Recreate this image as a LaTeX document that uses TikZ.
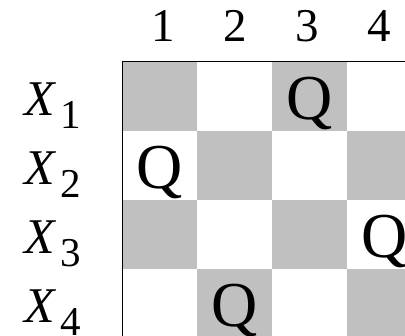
\documentclass[tikz,border=0pt]{standalone}
\usepackage{fontspec}
\setmainfont{Liberation Serif}
\definecolor{cellgray}{RGB}{192,192,192}
\newcommand{\queenfont}{\fontsize{64}{64}\selectfont}
\newcommand{\numfont}{\fontsize{47}{47}\selectfont}
\newcommand{\varfont}{\fontsize{50}{50}\selectfont}
\newcommand{\subfont}{\fontsize{41}{41}\selectfont}
\tikzset{
  queen/.style={anchor=base, inner sep=0pt, font=\queenfont},
  collabel/.style={anchor=base, inner sep=0pt, font=\numfont},
  rowlabel/.style={anchor=base west, inner sep=0pt, font=\varfont}
}
\begin{document}
\begin{tikzpicture}[x=1pt, y=-1pt]
  \useasboundingbox (0,0) rectangle (405,336);
  \clip (0,0) rectangle (405,336);

  % Checkerboard
  \foreach \r in {1,...,4} {
    \foreach \c in {1,...,4} {
      \pgfmathtruncatemacro{\sumrc}{\r+\c}
      \ifodd\sumrc\else
        \fill[cellgray] ({122+75*(\c-1)},{62+69*(\r-1)}) rectangle +(75,69);
      \fi
    }
  }

  % Board edges
  \coordinate (B) at (122,340);
  \coordinate (A) at (122,62);
  \coordinate (D) at (425,62);
  \draw[line width=1pt] (B) -- (A) -- (D);

  % Queens
  \foreach \r/\c in {1/3, 2/1, 3/4, 4/2} {
    \node[queen] (q\r) at ({159.5+75*(\c-1)},{120+69*(\r-1)}) {Q};
  }

  % Column numbers
  \foreach \c in {1,...,4} {
    \node[collabel] (c\c) at ({163.5+72*(\c-1)},42) {\c};
  }

  % Row variables
  \foreach \r in {1,...,4} {
    \node[rowlabel] (x\r) at (24,{115.5+69*(\r-1)})
      {\textit{X}\hspace{4pt}\raisebox{-13pt}{\subfont\r}};
  }
\end{tikzpicture}
\end{document}
